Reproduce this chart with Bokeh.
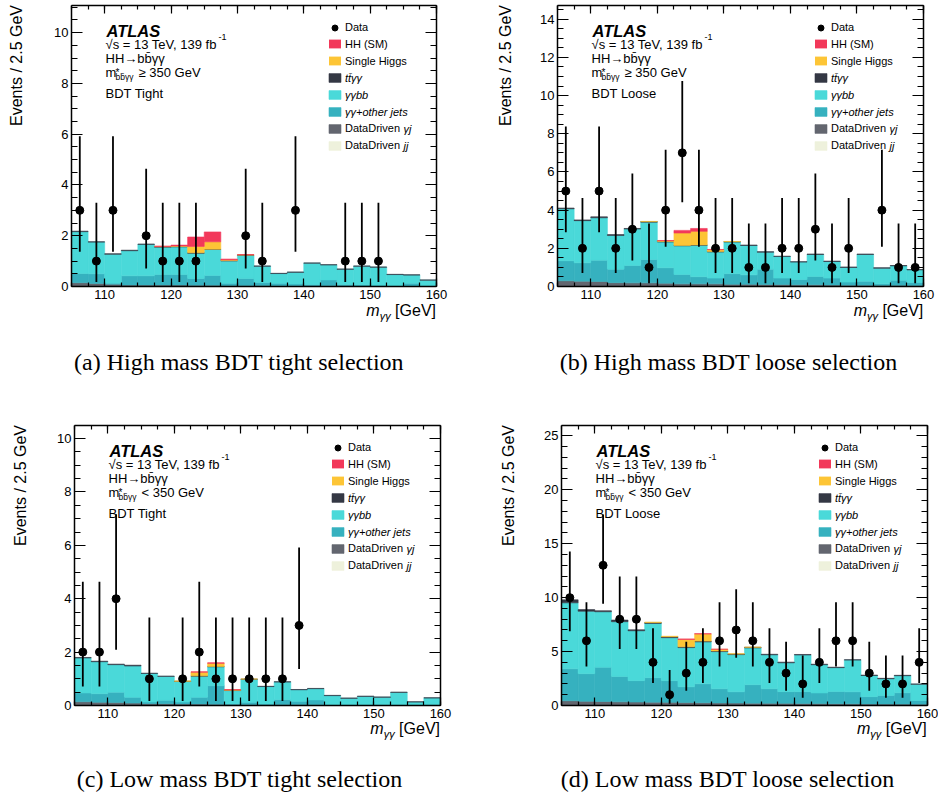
from bokeh.plotting import figure
from bokeh.models import (ColumnDataSource, Range1d, LinearAxis, SingleIntervalTicker,
                          Label, Legend, LegendItem, Div)
from bokeh.transform import stack
from bokeh.layouts import column, row
from bokeh.embed import file_html
from bokeh.resources import INLINE

FONT = "Liberation Sans"
SERIF = "Liberation Serif"

# ---------------- data ----------------
bin_centers = [106.25, 108.75, 111.25, 113.75, 116.25, 118.75, 121.25, 123.75, 126.25, 128.75,
               131.25, 133.75, 136.25, 138.75, 141.25, 143.75, 146.25, 148.75, 151.25, 153.75,
               156.25, 158.75]

# Garwood 68% Poisson intervals for n = 0..13
poisson_lo = [0.0, 0.173, 0.708, 1.367, 2.086, 2.840, 3.620, 4.419, 5.232, 6.057, 6.891, 7.734, 8.585, 9.441]
poisson_hi = [1.841, 3.300, 4.638, 5.918, 7.163, 8.382, 9.584, 10.77, 11.95, 13.11, 14.27, 15.42, 16.56, 17.70]

# (a) high mass, BDT tight
a_data = [3, 1, 3, 0, 2, 1, 1, 1, 0, 0, 2, 1, 0, 3, 0, 0, 1, 1, 1, 0, 0, 0]
a_jj = [0.01, 0.01, 0.01, 0.01, 0.01, 0.01, 0.01, 0.01, 0.01, 0.01, 0.01, 0.01, 0.01, 0.01, 0.01, 0.01, 0.01, 0.01, 0.01, 0.01, 0.01, 0.01]
a_gyj = [0.14, 0.11, 0.08, 0.05, 0.05, 0.05, 0.05, 0.04, 0.04, 0.03, 0.03, 0.03, 0.02, 0.02, 0.02, 0.02, 0.02, 0.01, 0.01, 0.01, 0.01, 0.01]
a_gjets = [0.36, 0.38, 0.04, 0.36, 0.36, 0.41, 0.41, 0.27, 0.38, 0.09, 0.28, 0.12, 0.10, 0.07, 0.05, 0.23, 0.05, 0.05, 0.03, 0.01, 0.11, 0.01]
a_gbb = [1.65, 1.25, 1.14, 0.99, 1.24, 1.08, 1.09, 0.99, 1.03, 0.88, 0.91, 0.64, 0.38, 0.46, 0.84, 0.59, 0.60, 0.73, 0.71, 0.44, 0.32, 0.22]
a_tt = [0.02, 0.01, 0.02, 0.02, 0.01, 0.02, 0.02, 0.02, 0.01, 0.01, 0.01, 0.01, 0.01, 0.01, 0.01, 0.01, 0.01, 0.01, 0.01, 0.01, 0.01, 0.01]
a_sh = [0, 0, 0, 0, 0, 0.01, 0.02, 0.25, 0.29, 0.03, 0.01, 0, 0, 0, 0, 0, 0, 0, 0, 0, 0, 0]
a_hh = [0, 0, 0, 0, 0, 0.01, 0.03, 0.37, 0.39, 0.03, 0.01, 0, 0, 0, 0, 0, 0, 0, 0, 0, 0, 0]

# (b) high mass, BDT loose
b_data = [5, 2, 5, 2, 3, 1, 4, 7, 4, 2, 2, 1, 1, 2, 2, 3, 1, 2, 0, 4, 1, 1]
b_jj = [0.02, 0.02, 0.02, 0.02, 0.02, 0.02, 0.02, 0.02, 0.02, 0.02, 0.02, 0.02, 0.02, 0.02, 0.02, 0.02, 0.02, 0.02, 0.02, 0.02, 0.02, 0.02]
b_gyj = [0.28, 0.26, 0.24, 0.18, 0.17, 0.17, 0.15, 0.12, 0.12, 0.12, 0.10, 0.10, 0.09, 0.08, 0.07, 0.07, 0.06, 0.05, 0.05, 0.04, 0.04, 0.03]
b_gjets = [1.05, 0.96, 1.12, 0.71, 0.91, 1.23, 0.81, 0.49, 0.37, 0.30, 0.55, 0.49, 0.80, 0.34, 0.28, 0.43, 0.36, 0.16, 0.21, 0.08, 0.27, 0.16]
b_gbb = [2.72, 2.21, 2.22, 1.76, 1.91, 1.95, 1.35, 1.50, 1.65, 1.37, 1.66, 1.54, 0.89, 1.13, 0.91, 1.16, 0.87, 0.77, 1.40, 0.82, 0.75, 0.66]
b_tt = [0.04, 0.04, 0.05, 0.05, 0.03, 0.03, 0.03, 0.02, 0.02, 0.02, 0.02, 0.02, 0.02, 0.02, 0.02, 0.02, 0.02, 0.02, 0.02, 0.02, 0.02, 0.02]
b_sh = [0, 0, 0, 0, 0, 0.01, 0.04, 0.65, 0.71, 0.10, 0.01, 0, 0, 0, 0, 0, 0, 0, 0, 0, 0, 0]
b_hh = [0, 0, 0, 0, 0, 0, 0.01, 0.14, 0.15, 0.01, 0, 0, 0, 0, 0, 0, 0, 0, 0, 0, 0, 0]

# (c) low mass, BDT tight
c_data = [2, 2, 4, 0, 1, 0, 1, 2, 1, 1, 1, 1, 1, 3, 0, 0, 0, 0, 0, 0, 0, 0]
c_jj = [0.01, 0.01, 0.01, 0.01, 0.01, 0.01, 0.01, 0.01, 0.01, 0.01, 0.01, 0.01, 0.01, 0.01, 0.01, 0.01, 0.01, 0.01, 0.01, 0.01, 0.01, 0.01]
c_gyj = [0.13, 0.11, 0.10, 0.08, 0.06, 0.06, 0.05, 0.05, 0.04, 0.04, 0.03, 0.03, 0.03, 0.03, 0.02, 0.01, 0.01, 0.01, 0.01, 0.01, 0.01, 0.01]
c_gjets = [0.33, 0.32, 0.39, 0.22, 0.06, 0.13, 0.07, 0.25, 0.69, 0.01, 0.08, 0.02, 0.18, 0.12, 0.18, 0.01, 0.01, 0.01, 0.01, 0.01, 0.01, 0.01]
c_gbb = [1.31, 1.20, 1.03, 1.17, 1.07, 0.89, 0.77, 0.79, 0.71, 0.50, 0.86, 0.65, 0.66, 0.43, 0.42, 0.34, 0.24, 0.31, 0.28, 0.46, 0.10, 0.25]
c_tt = [0.02, 0.02, 0.02, 0.03, 0.01, 0.01, 0.01, 0.01, 0.01, 0.01, 0.01, 0.01, 0.01, 0.01, 0.01, 0.01, 0.01, 0.01, 0.01, 0.01, 0.01, 0.01]
c_sh = [0, 0, 0, 0, 0, 0, 0.01, 0.14, 0.12, 0.02, 0.005, 0, 0, 0, 0, 0, 0, 0, 0, 0, 0, 0]
c_hh = [0, 0, 0, 0, 0, 0, 0, 0.01, 0.02, 0.005, 0, 0, 0, 0, 0, 0, 0, 0, 0, 0, 0, 0]

# (d) low mass, BDT loose
d_data = [10, 6, 13, 8, 8, 4, 1, 3, 4, 6, 7, 6, 4, 3, 2, 4, 6, 6, 3, 2, 2, 4]
d_jj = [0.04, 0.04, 0.04, 0.04, 0.04, 0.04, 0.04, 0.04, 0.04, 0.04, 0.04, 0.04, 0.04, 0.04, 0.04, 0.04, 0.04, 0.04, 0.04, 0.04, 0.04, 0.04]
d_gyj = [0.40, 0.35, 0.33, 0.30, 0.28, 0.27, 0.25, 0.24, 0.22, 0.20, 0.19, 0.18, 0.17, 0.16, 0.15, 0.14, 0.13, 0.12, 0.11, 0.10, 0.09, 0.08]
d_gjets = [2.96, 2.56, 3.18, 2.36, 1.98, 2.27, 2.01, 1.45, 1.75, 1.31, 1.04, 1.71, 1.34, 1.08, 1.09, 0.98, 1.13, 1.11, 0.67, 0.79, 1.05, 0.34]
d_gbb = [6.12, 5.79, 5.14, 5.07, 4.63, 5.03, 3.99, 3.64, 3.89, 3.45, 3.45, 3.41, 3.15, 2.68, 3.40, 2.62, 2.21, 2.94, 1.96, 1.55, 1.58, 1.51]
d_tt = [0.28, 0.15, 0.10, 0.15, 0.09, 0.09, 0.09, 0.08, 0.07, 0.06, 0.06, 0.06, 0.05, 0.06, 0.05, 0.05, 0.04, 0.04, 0.04, 0.04, 0.04, 0.03]
d_sh = [0, 0, 0, 0, 0, 0.02, 0.04, 0.68, 0.66, 0.15, 0.02, 0.01, 0, 0, 0, 0, 0, 0, 0, 0, 0, 0]
d_hh = [0, 0, 0, 0, 0, 0, 0, 0.04, 0.03, 0.01, 0, 0, 0, 0, 0, 0, 0, 0, 0, 0, 0, 0]

components = ["jj", "gyj", "gjets", "gbb", "tt", "sh", "hh"]
colors = {"hh": "#f2385a", "sh": "#fdc536", "tt": "#343844", "gbb": "#4ad9d9",
          "gjets": "#36b1bf", "gyj": "#63666f", "jj": "#eef1dc"}

legend_rows = [("data", "Data", False), ("hh", "HH (SM)", False), ("sh", "Single Higgs", False),
               ("tt", "t\u0074\u0304\u03b3\u03b3", True), ("gbb", "\u03b3\u03b3bb", True),
               ("gjets", "\u03b3\u03b3+other jets", True), ("gyj", "DataDriven", False),
               ("jj", "DataDriven", False)]
legend_extra = {"gyj": "\u03b3j", "jj": "jj"}
ROW_C = {"data": 22, "hh": 38.5, "sh": 55.5, "tt": 72.5, "gbb": 89.5, "gjets": 106.5,
         "gyj": 123, "jj": 140}


def style_axis(ax, major_in, minor_in, labels=True):
    ax.axis_line_color = "black"
    ax.axis_line_width = 1.5
    ax.major_tick_in = major_in
    ax.major_tick_out = 0
    ax.minor_tick_in = minor_in
    ax.minor_tick_out = 0
    ax.major_tick_line_width = 1.2
    ax.minor_tick_line_width = 1.2
    ax.major_tick_line_color = "black"
    ax.minor_tick_line_color = "black"
    if labels:
        ax.major_label_text_font = FONT
        ax.major_label_text_font_size = "13px"
        ax.major_label_text_color = "black"
        ax.major_label_standoff = 3
    else:
        ax.major_label_text_font_size = "1px"
        ax.major_label_text_color = None
        ax.major_label_standoff = 0


def add_text(p, x, y, text, dx, dy, size, style="normal", align="left",
             baseline="alphabetic", font=FONT):
    p.add_layout(Label(x=x, y=y, x_offset=dx, y_offset=dy, text=text, text_font=font,
                       text_font_size=f"{size}px", text_font_style=style, text_align=align,
                       text_baseline=baseline, text_color="black"))


def make_panel(data, comps, ymax, ytick, yminor, w, bl, br, bt, hf, bb, cut_text, bdt_text):
    h = bt + hf + bb
    p = figure(width=w, height=h, x_range=Range1d(105, 160), y_range=Range1d(0, ymax),
               output_backend="svg", toolbar_location=None, tools="",
               min_border_left=bl, min_border_right=br, min_border_top=bt, min_border_bottom=bb,
               outline_line_color=None, background_fill_color="white", border_fill_color="white")
    p.xgrid.visible = False
    p.ygrid.visible = False
    p.xaxis.ticker = SingleIntervalTicker(interval=10, num_minor_ticks=4)
    p.yaxis.ticker = SingleIntervalTicker(interval=ytick, num_minor_ticks=yminor)
    style_axis(p.xaxis[0], 8, 4)
    style_axis(p.yaxis[0], 11, 6)
    top = LinearAxis(ticker=SingleIntervalTicker(interval=10, num_minor_ticks=4))
    style_axis(top, 8, 4, labels=False)
    p.add_layout(top, "above")
    right = LinearAxis(ticker=SingleIntervalTicker(interval=ytick, num_minor_ticks=yminor))
    style_axis(right, 11, 6, labels=False)
    p.add_layout(right, "right")

    src_dict = {"x": bin_centers}
    for c in components:
        src_dict[c] = comps[c]
        src_dict[c + "_la"] = [1.0 if v > 0 else 0.0 for v in comps[c]]
    src = ColumnDataSource(src_dict)
    rends = {}
    for i, c in enumerate(components):
        bottom = stack(*components[:i]) if i > 0 else 0
        rends[c] = p.vbar(x="x", width=2.5, bottom=bottom, top=stack(*components[:i + 1]),
                          source=src, fill_color=colors[c], line_color=colors[c],
                          line_width=0.6, line_alpha=c + "_la")

    idx = [i for i, n in enumerate(data) if n > 0]
    dsrc = ColumnDataSource(dict(x=[bin_centers[i] for i in idx],
                                 y=[data[i] for i in idx],
                                 lo=[poisson_lo[data[i]] for i in idx],
                                 hi=[poisson_hi[data[i]] for i in idx]))
    p.segment(x0="x", y0="lo", x1="x", y1="hi", source=dsrc, line_color="black", line_width=1.8)
    rends["data"] = p.scatter(x="x", y="y", source=dsrc, size=8, marker="circle",
                              fill_color="black", line_color="black")

    X0, Y1 = 105, ymax
    add_text(p, X0, Y1, "ATLAS", 35, -25.7, 16.5, style="bold italic")
    add_text(p, X0, Y1, "\u221as = 13 TeV, 139 fb", 34, -38.7, 13)
    add_text(p, X0, Y1, "-1", 147, -31.7, 9)
    add_text(p, X0, Y1, "HH\u2192bb\u0304\u03b3\u03b3", 34, -52.7, 13)
    add_text(p, X0, Y1, "m", 34, -66.7, 13)
    add_text(p, X0, Y1, "*", 44, -67, 10)
    add_text(p, X0, Y1, "bb\u0304\u03b3\u03b3", 44, -71.6, 8.5)
    add_text(p, X0, Y1, cut_text, 67, -66.7, 13)
    add_text(p, X0, Y1, bdt_text, 34, -87.7, 13)

    for key, lab, ital in legend_rows:
        gh = 15 if key == "data" else 11
        lh = 15 if key == "data" else 13
        hh_ = max(gh, lh)
        ly = hf - ROW_C[key] - hh_ / 2.0
        leg = Legend(items=[LegendItem(label=lab, renderers=[rends[key]])],
                     location=(256, ly), orientation="vertical", padding=0, margin=0,
                     spacing=0, glyph_width=15, glyph_height=gh, label_height=lh,
                     label_standoff=3, label_text_font=FONT, label_text_font_size="11px",
                     label_text_font_style="italic" if ital else "normal",
                     label_text_color="black", border_line_color=None,
                     background_fill_alpha=0)
        p.add_layout(leg)
        if key in legend_extra:
            add_text(p, X0, Y1, legend_extra[key], 332, -ROW_C[key], 11, style="italic",
                     baseline="middle")
    return p


def comps_of(jj, gyj, gjets, gbb, tt, sh, hh):
    return {"jj": jj, "gyj": gyj, "gjets": gjets, "gbb": gbb, "tt": tt, "sh": sh, "hh": hh}


def xlabel_html(right_edge, baseline):
    top = baseline - 0.8465 * 16
    return ('<div style="position:absolute;right:%.1fpx;top:%.1fpx;font-family:\'Liberation Sans\';'
            'font-size:16px;line-height:1;white-space:nowrap;color:#000;">'
            '<i>m</i><span style="font-size:11px;font-style:italic;position:relative;top:4px;">'
            '\u03b3\u03b3</span> [GeV]</div>' % (938 - right_edge, top))


def ylabel_html(baseline_x, top_end_rel):
    # rotated -90deg around its top-left corner; right end of the 300px box = top of text
    left = baseline_x - 0.8465 * 16
    top = top_end_rel + 300
    return ('<div style="position:absolute;left:%.1fpx;top:%.1fpx;width:300px;text-align:right;'
            'transform-origin:0 0;transform:rotate(-90deg);font-family:\'Liberation Sans\';'
            'font-size:16px;line-height:1;white-space:nowrap;color:#000;">'
            'Events / 2.5 GeV</div>' % (left, top))


def caption_html(center, baseline, text):
    top = baseline - 0.8375 * 24
    return ('<div style="position:absolute;left:%.1fpx;width:500px;top:%.1fpx;text-align:center;'
            'font-family:\'Liberation Serif\';font-size:24px;line-height:1;white-space:nowrap;'
            'color:#000;">%s</div>' % (center - 250, top, text))


def text_row(height, parts):
    html = ('<div style="position:relative;width:938px;height:%dpx;overflow:visible;">' % height
            + "".join(parts) + "</div>")
    return Div(text=html, width=938, height=height, margin=0, styles={"overflow": "visible"})


pa = make_panel(a_data, comps_of(a_jj, a_gyj, a_gjets, a_gbb, a_tt, a_sh, a_hh),
                11.07, 2, 4, 480, 71, 44, 5, 281, 22, "\u2265 350 GeV", "BDT Tight")
pb = make_panel(b_data, comps_of(b_jj, b_gyj, b_gjets, b_gbb, b_tt, b_sh, b_hh),
                14.72, 2, 4, 458, 77, 15, 5, 281, 22, "\u2265 350 GeV", "BDT Loose")
pc = make_panel(c_data, comps_of(c_jj, c_gyj, c_gjets, c_gbb, c_tt, c_sh, c_hh),
                10.49, 2, 4, 480, 74, 40, 15, 280, 22, "< 350 GeV", "BDT Tight")
pd = make_panel(d_data, comps_of(d_jj, d_gyj, d_gjets, d_gbb, d_tt, d_sh, d_hh),
                25.96, 5, 5, 458, 81, 11, 15, 280, 22, "< 350 GeV", "BDT Loose")

captions = ["(a) High mass BDT tight selection", "(b) High mass BDT loose selection",
            "(c) Low mass BDT tight selection", "(d) Low mass BDT loose selection"]

# row 1 texts: origin y = 308 (frames span y 5..286)
row1 = text_row(102, [ylabel_html(22.7, 5.3 - 308), ylabel_html(511.0, 5.3 - 308),
                      xlabel_html(436, 8.3), xlabel_html(923.3, 8.3),
                      caption_html(238.8, 62.3, captions[0]),
                      caption_html(728.5, 62.3, captions[1])])
# row 2 texts: origin y = 727 (frames span y 425..705)
row2 = text_row(69, [ylabel_html(26.5, 424.7 - 727), ylabel_html(514.0, 424.7 - 727),
                     xlabel_html(440, 7.9), xlabel_html(926.7, 7.9),
                     caption_html(239.5, 60.5, captions[2]),
                     caption_html(727.5, 60.5, captions[3])])

layout = column(row(pa, pb), row1, row(pc, pd), row2)
open("out.html", "w").write(file_html(layout, INLINE))
